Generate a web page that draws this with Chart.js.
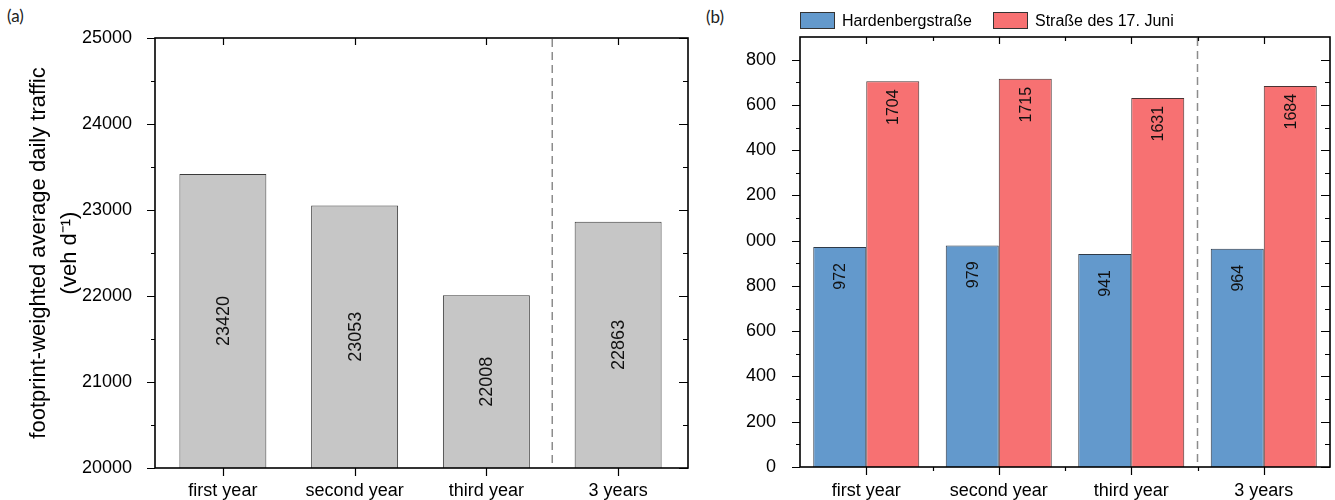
<!DOCTYPE html>
<html><head><meta charset="utf-8">
<script src="https://cdn.jsdelivr.net/npm/chart.js@4.4.0/dist/chart.umd.min.js"></script>
<style>
html,body{margin:0;padding:0;background:#fff;width:1335px;height:500px;overflow:hidden;position:relative;}
#ca{position:absolute;left:0;top:0;}
#cb{position:absolute;left:700px;top:0;}
.panel{position:absolute;font-family:Lato,'Liberation Sans',sans-serif;font-size:17px;color:#222;line-height:20px;}
</style></head><body>
<div class="panel" style="left:7px;top:6px">(a)</div>
<div class="panel" style="left:706px;top:7px">(b)</div>
<canvas id="ca" width="700" height="500"></canvas>
<canvas id="cb" width="635" height="500"></canvas>
<script>
// ---------- data ----------
const categories = ['first year', 'second year', 'third year', '3 years'];
const trafficValues = [23420, 23053, 22008, 22863];
const hardenbergLabel = 'Hardenbergstraße';
const hardenbergValues = [972, 979, 941, 964];
const juniLabel = 'Straße des 17. Juni';
const juniValues = [1704, 1715, 1631, 1684];
const leftYTitle = ['footprint-weighted average daily traffic', '(veh d\u207B\u00B9)'];
const leftTickLabels = ['20000', '21000', '22000', '23000', '24000', '25000'];
const rightTickLabels = ['0', '200', '400', '600', '800', '000', '200', '400', '600', '800'];

Chart.defaults.font.family = "'Liberation Sans', Arial, sans-serif";
Chart.defaults.color = '#000';

// ---------- plugins ----------
const framePlugin = {
  id: 'frame',
  afterDatasetsDraw(chart, args, o) {
    const {ctx, chartArea: a, scales: {x, y}} = chart;
    const L = a.left - (o.padL || 0), R = a.right + (o.padR || 0), T = a.top, B = a.bottom;
    ctx.save();
    const xs = (x.getPixelForValue(2) + x.getPixelForValue(3)) / 2;
    ctx.strokeStyle = '#8c8c8c'; ctx.lineWidth = 1.5; ctx.setLineDash([8, 5]);
    ctx.beginPath(); ctx.moveTo(xs, T + 1); ctx.lineTo(xs, B); ctx.stroke();
    ctx.setLineDash([]);
    ctx.strokeStyle = '#000';
    ctx.lineWidth = 1.2;
    ctx.beginPath();
    const step = o.yStep, half = step / 2;
    const n = Math.round((y.max - y.min) / half);
    for (let k = 0; k <= n; k++) {
      const v = y.min + k * half;
      const major = k % 2 === 0;
      if (!major && (k === 0 || k === n)) continue;
      const py = Math.round(y.getPixelForValue(v)) + 0.5;
      const lo = major ? 8 : 4, li = major ? 9 : 5;
      ctx.moveTo(L - lo, py); ctx.lineTo(L, py);
      ctx.moveTo(R, py); ctx.lineTo(R - li, py);
    }
    const nc = chart.data.labels.length;
    for (let i = 0; i < nc; i++) {
      const px = Math.round(x.getPixelForValue(i)) + 0.5;
      ctx.moveTo(px, B); ctx.lineTo(px, B + 8);
      ctx.moveTo(px, T); ctx.lineTo(px, T + 7);
      if (o.xMinor && i > 0) {
        const pm = Math.round((x.getPixelForValue(i - 1) + x.getPixelForValue(i)) / 2) + 0.5;
        ctx.moveTo(pm, B); ctx.lineTo(pm, B + 4);
        ctx.moveTo(pm, T); ctx.lineTo(pm, T + 4);
      }
    }
    ctx.stroke();
    ctx.lineWidth = 1.6;
    ctx.strokeRect(L, T, R - L, B - T);
    ctx.restore();
  }
};

const valueLabelPlugin = {
  id: 'valueLabels',
  afterDatasetsDraw(chart, args, o) {
    const ctx = chart.ctx;
    const yScale = chart.scales.y;
    const basePx = yScale.getPixelForValue(yScale.min);
    ctx.save();
    ctx.font = o.font; ctx.fillStyle = '#111'; ctx.textBaseline = 'middle';
    chart.data.datasets.forEach((ds, di) => {
      const meta = chart.getDatasetMeta(di);
      meta.data.forEach((bar, i) => {
        const bx = bar.x, by = bar.y;
        ctx.save();
        if (o.centered) {
          ctx.translate(bx + o.dx, (by + basePx) / 2); ctx.textAlign = 'center';
        } else {
          ctx.translate(bx + o.dx, by + o.offsets[di]); ctx.textAlign = 'right';
        }
        ctx.rotate(-Math.PI / 2);
        ctx.fillText(String(ds.data[i]), 0, 0);
        ctx.restore();
      });
    });
    ctx.restore();
  }
};

const boxLegendPlugin = {
  id: 'boxLegend',
  afterDraw(chart, args, o) {
    if (!o.xs) return;
    const ctx = chart.ctx;
    ctx.save();
    ctx.font = o.font; ctx.textBaseline = 'middle'; ctx.textAlign = 'left';
    chart.data.datasets.forEach((ds, i) => {
      const bx = o.xs[i];
      ctx.fillStyle = ds.backgroundColor;
      ctx.fillRect(bx, o.y, o.w, o.h);
      ctx.strokeStyle = '#333'; ctx.lineWidth = 1;
      ctx.strokeRect(bx + 0.5, o.y + 0.5, o.w - 1, o.h - 1);
      ctx.fillStyle = '#000';
      ctx.fillText(ds.label, bx + o.w + o.gap, o.y + o.h / 2 + 1);
    });
    ctx.restore();
  }
};

const tickFont = {size: 18};

// ---------- chart (a) ----------
new Chart(document.getElementById('ca'), {
  type: 'bar',
  data: {
    labels: categories,
    datasets: [{
      label: 'traffic',
      data: trafficValues,
      backgroundColor: '#C6C6C6',
      borderColor: '#3a3a3a',
      borderWidth: 1,
      categoryPercentage: 1,
      barPercentage: 0.66
    }]
  },
  options: {
    responsive: false, animation: false, devicePixelRatio: 1,
    layout: {padding: {left: 0, top: 38, right: 16, bottom: 0}},
    plugins: {
      legend: {display: false}, tooltip: {enabled: false},
      frame: {yStep: 1000, padL: 2, padR: 4, xMinor: false},
      valueLabels: {centered: true, font: "18px 'Liberation Sans', Arial, sans-serif", dx: 1, offsets: [0]},
      boxLegend: {}
    },
    scales: {
      x: {
        grid: {display: false}, border: {display: false},
        ticks: {font: tickFont, padding: 4, maxRotation: 0, autoSkip: false},
        afterFit(s) { s.height = 32; }
      },
      y: {
        min: 20000, max: 25000,
        grid: {display: false}, border: {display: false},
        ticks: {
          stepSize: 1000, font: tickFont, padding: 17, autoSkip: false,
          callback: (v) => leftTickLabels[Math.round((v - 20000) / 1000)]
        },
        title: {display: true, text: leftYTitle, font: {size: 22, lineHeight: 1.4}, padding: {top: 24, bottom: 0}},
        afterFit(s) { s.width = 157; }
      }
    }
  },
  plugins: [framePlugin, valueLabelPlugin, boxLegendPlugin]
});

// ---------- chart (b) ----------
new Chart(document.getElementById('cb'), {
  type: 'bar',
  data: {
    labels: categories,
    datasets: [{
      label: hardenbergLabel,
      data: hardenbergValues,
      backgroundColor: '#6399CC',
      borderColor: '#2f3a48',
      borderWidth: 1,
      categoryPercentage: 0.8,
      barPercentage: 1
    }, {
      label: juniLabel,
      data: juniValues,
      backgroundColor: '#F77172',
      borderColor: '#4a3333',
      borderWidth: 1,
      categoryPercentage: 0.8,
      barPercentage: 1
    }]
  },
  options: {
    responsive: false, animation: false, devicePixelRatio: 1,
    layout: {padding: {left: 0, top: 37, right: 5, bottom: 0}},
    plugins: {
      legend: {display: false}, tooltip: {enabled: false},
      frame: {yStep: 200, padL: 0, padR: 0, xMinor: true},
      valueLabels: {centered: false, font: "16px 'Liberation Sans', Arial, sans-serif", dx: 1, offsets: [16, 8]},
      boxLegend: {xs: [100, 293], y: 12, w: 35, h: 17, gap: 7, font: "16px 'Liberation Sans', Arial, sans-serif"}
    },
    scales: {
      x: {
        grid: {display: false}, border: {display: false},
        ticks: {font: tickFont, padding: 5, maxRotation: 0, autoSkip: false},
        afterFit(s) { s.height = 33; }
      },
      y: {
        min: 0, max: 1900,
        grid: {display: false}, border: {display: false},
        ticks: {
          stepSize: 200, includeBounds: false, font: tickFont, padding: 16, autoSkip: false,
          callback: (v) => rightTickLabels[Math.round(v / 200)]
        },
        afterFit(s) { s.width = 100; }
      }
    }
  },
  plugins: [framePlugin, valueLabelPlugin, boxLegendPlugin]
});
</script>
</body></html>
